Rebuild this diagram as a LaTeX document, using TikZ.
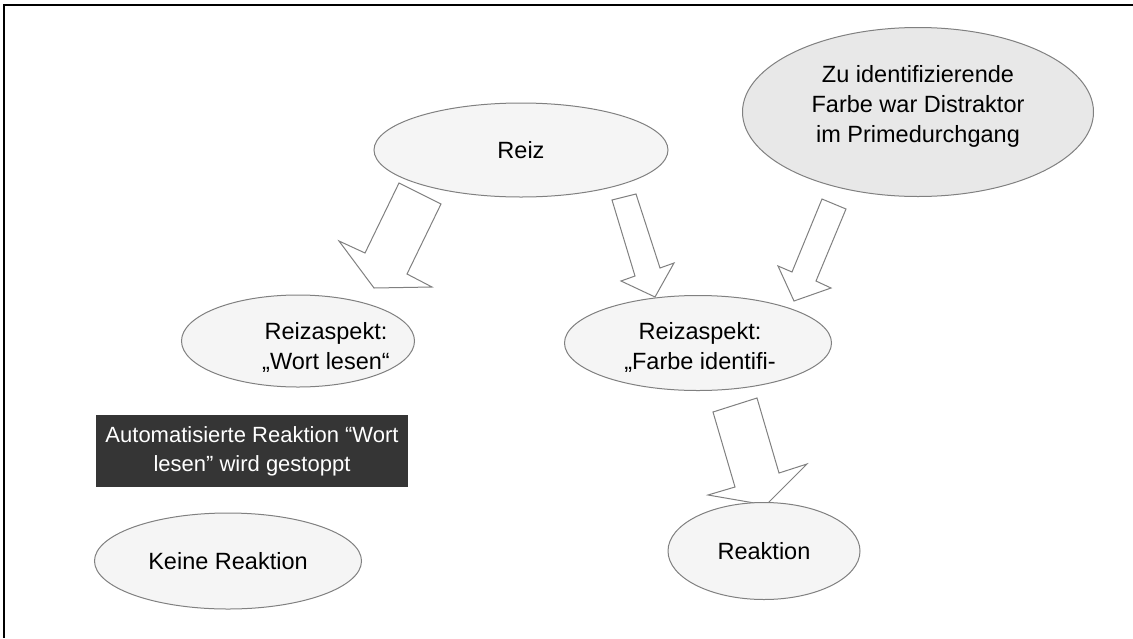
\documentclass[tikz,border=0pt]{standalone}
\usepackage{fontspec}
\setmainfont{Liberation Sans}
\usetikzlibrary{shapes.geometric}
\definecolor{edgegray}{HTML}{808080}
\definecolor{blobfill}{HTML}{F5F5F5}
\definecolor{cuefill}{HTML}{E8E8E8}
\definecolor{boxfill}{HTML}{353535}
\begin{document}
\begin{tikzpicture}[x=1pt,y=-1pt,
  blob/.style={ellipse,draw=edgegray,fill=blobfill,line width=1pt,inner sep=0pt},
  cue/.style={blob,fill=cuefill},
  txt/.style={align=center,inner sep=0pt,font=\fontsize{23.5}{30}\selectfont},
  boxtxt/.style={align=center,inner sep=0pt,text=white,font=\fontsize{22}{29}\selectfont},
  blockarrow/.style={draw=edgegray,fill=white,line width=1pt,line join=miter}]
\useasboundingbox (0,0) rectangle (1133,638);
\fill[white] (0,0) rectangle (1133,638);
% outer frame (top and left edges only)
\draw[line width=1.3pt] (1133,5) -- (4,5) -- (4,638);

% block arrows
\draw[blockarrow] (399,183) -- (441,204) -- (407,274) -- (432,287) -- (374,288) -- (339,241) -- (365,253) -- cycle;
\draw[blockarrow] (612,200) -- (636,194) -- (660,268) -- (674,263) -- (655,297) -- (621,281) -- (635,276) -- cycle;
\draw[blockarrow] (822,199) -- (846,209) -- (816,281) -- (831,288) -- (794,301) -- (778,266) -- (792,272) -- cycle;
\draw[blockarrow] (713,412) -- (757,398) -- (779,473) -- (807,464) -- (766,505) -- (708,495) -- (735,487) -- cycle;

% ellipses
\node[blob,minimum width=294pt,minimum height=94pt] (reiz) at (521,150) {};
\node[cue,minimum width=351pt,minimum height=169pt] (cue) at (918,112) {};
\node[blob,minimum width=233pt,minimum height=92pt] (wort) at (298,341) {};
\node[blob,minimum width=267pt,minimum height=95pt] (farbe) at (698,343) {};
\node[blob,minimum width=267pt,minimum height=96pt] (keine) at (228,561) {};
\node[blob,minimum width=192pt,minimum height=97pt] (reak) at (764,551) {};

% dark note box
\node[fill=boxfill,minimum width=312pt,minimum height=72pt,inner sep=0pt] (stop) at (252,451) {};

% texts
\node[txt] (reizT) at (reiz) {Reiz};
\node[txt] (cueT) at (918,106) {Zu identifizierende\\Farbe war Distraktor\\im Primedurchgang};
\node[txt] (wortT) at (326,347) {Reizaspekt:\\„Wort lesen“};
\node[txt] (farbeT) at (700,347) {Reizaspekt:\\„Farbe identifi-};
\node[boxtxt] (stopT) at (stop) {Automatisierte Reaktion “Wort\\lesen” wird gestoppt};
\node[txt] (keineT) at (keine) {Keine Reaktion};
\node[txt] (reakT) at (reak) {Reaktion};
\end{tikzpicture}
\end{document}
